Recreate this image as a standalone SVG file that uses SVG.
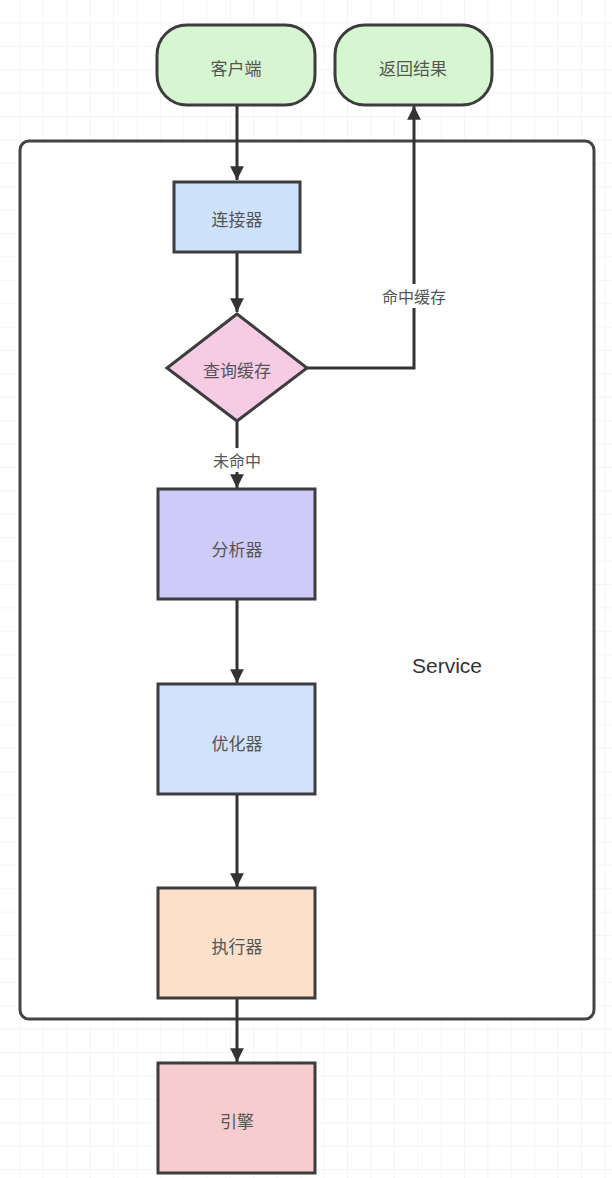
<svg xmlns="http://www.w3.org/2000/svg" width="612" height="1178" viewBox="0 0 612 1178">
<defs>
<pattern id="grid" x="-3" y="0" width="23.4" height="23.4" patternUnits="userSpaceOnUse">
<path d="M23.4 0V23.4M0 23.4H23.4" fill="none" stroke="#ececec" stroke-width="1"/>
</pattern>
<marker id="arr" viewBox="0 0 10 10" refX="10" refY="5" markerWidth="4.6" markerHeight="4.6" orient="auto" markerUnits="strokeWidth">
<path d="M0 0L10 5L0 10Z" fill="#333"/>
</marker>
<style>
.n{stroke:#3d3d3d;stroke-width:3}
.t{font-family:"Noto Sans CJK SC","Liberation Sans",sans-serif;font-size:17px;fill:#555;text-anchor:middle;dominant-baseline:central}
.e{fill:none;stroke:#333;stroke-width:3;marker-end:url(#arr)}
.lbl{font-family:"Noto Sans CJK SC","Liberation Sans",sans-serif;font-size:16px;fill:#555;text-anchor:middle;dominant-baseline:central}
</style>
</defs>
<rect width="612" height="1178" fill="#fff"/>
<rect width="612" height="1178" fill="url(#grid)"/>
<g id="service">
<rect x="20" y="141" width="574" height="878" rx="9" fill="#fff" stroke="#444" stroke-width="3"/>
<text x="447" y="665" font-family="Helvetica, 'Liberation Sans', Arial, sans-serif" font-size="21" fill="#333" text-anchor="middle" dominant-baseline="central">Service</text>
</g>
<g id="connectors">
<line class="e" x1="237" y1="105" x2="237" y2="180"/>
<line class="e" x1="237" y1="252" x2="237" y2="312"/>
<polyline class="e" points="307,368 414,368 414,106"/>
<line class="e" x1="237" y1="422" x2="237" y2="488"/>
<line class="e" x1="237" y1="599" x2="237" y2="683"/>
<line class="e" x1="237" y1="794" x2="237" y2="887"/>
<line class="e" x1="237" y1="998" x2="237" y2="1062"/>
<rect x="360" y="284" width="108" height="24" fill="#fff"/>
<text class="lbl" x="414" y="296">命中缓存</text>
<rect x="194" y="448" width="86" height="24" fill="#fff"/>
<text class="lbl" x="237" y="460">未命中</text>
</g>
<g id="client">
<rect class="n" x="157" y="25" width="158" height="80" rx="30" fill="#d5f6d0"/>
<text class="t" x="236" y="67">客户端</text>
</g>
<g id="result">
<rect class="n" x="335" y="25" width="157" height="80" rx="30" fill="#d5f6d0"/>
<text class="t" x="413" y="67">返回结果</text>
</g>
<g id="connector">
<rect class="n" x="174" y="182" width="126" height="70" fill="#cfe2fb"/>
<text class="t" x="237" y="218">连接器</text>
</g>
<g id="cache">
<polygon class="n" points="237,314 307,368 237,421 167,368" fill="#f7cbe4"/>
<text class="t" x="237" y="369">查询缓存</text>
</g>
<g id="analyzer">
<rect class="n" x="158" y="489" width="157" height="110" fill="#cfcbf9"/>
<text class="t" x="237" y="548">分析器</text>
</g>
<g id="optimizer">
<rect class="n" x="158" y="684" width="157" height="110" fill="#d0e3fa"/>
<text class="t" x="237" y="742">优化器</text>
</g>
<g id="executor">
<rect class="n" x="158" y="888" width="157" height="110" fill="#fbe1c9"/>
<text class="t" x="237" y="945">执行器</text>
</g>
<g id="engine">
<rect class="n" x="158" y="1063" width="157" height="110" fill="#f6ccce"/>
<text class="t" x="237" y="1120">引擎</text>
</g>
</svg>
